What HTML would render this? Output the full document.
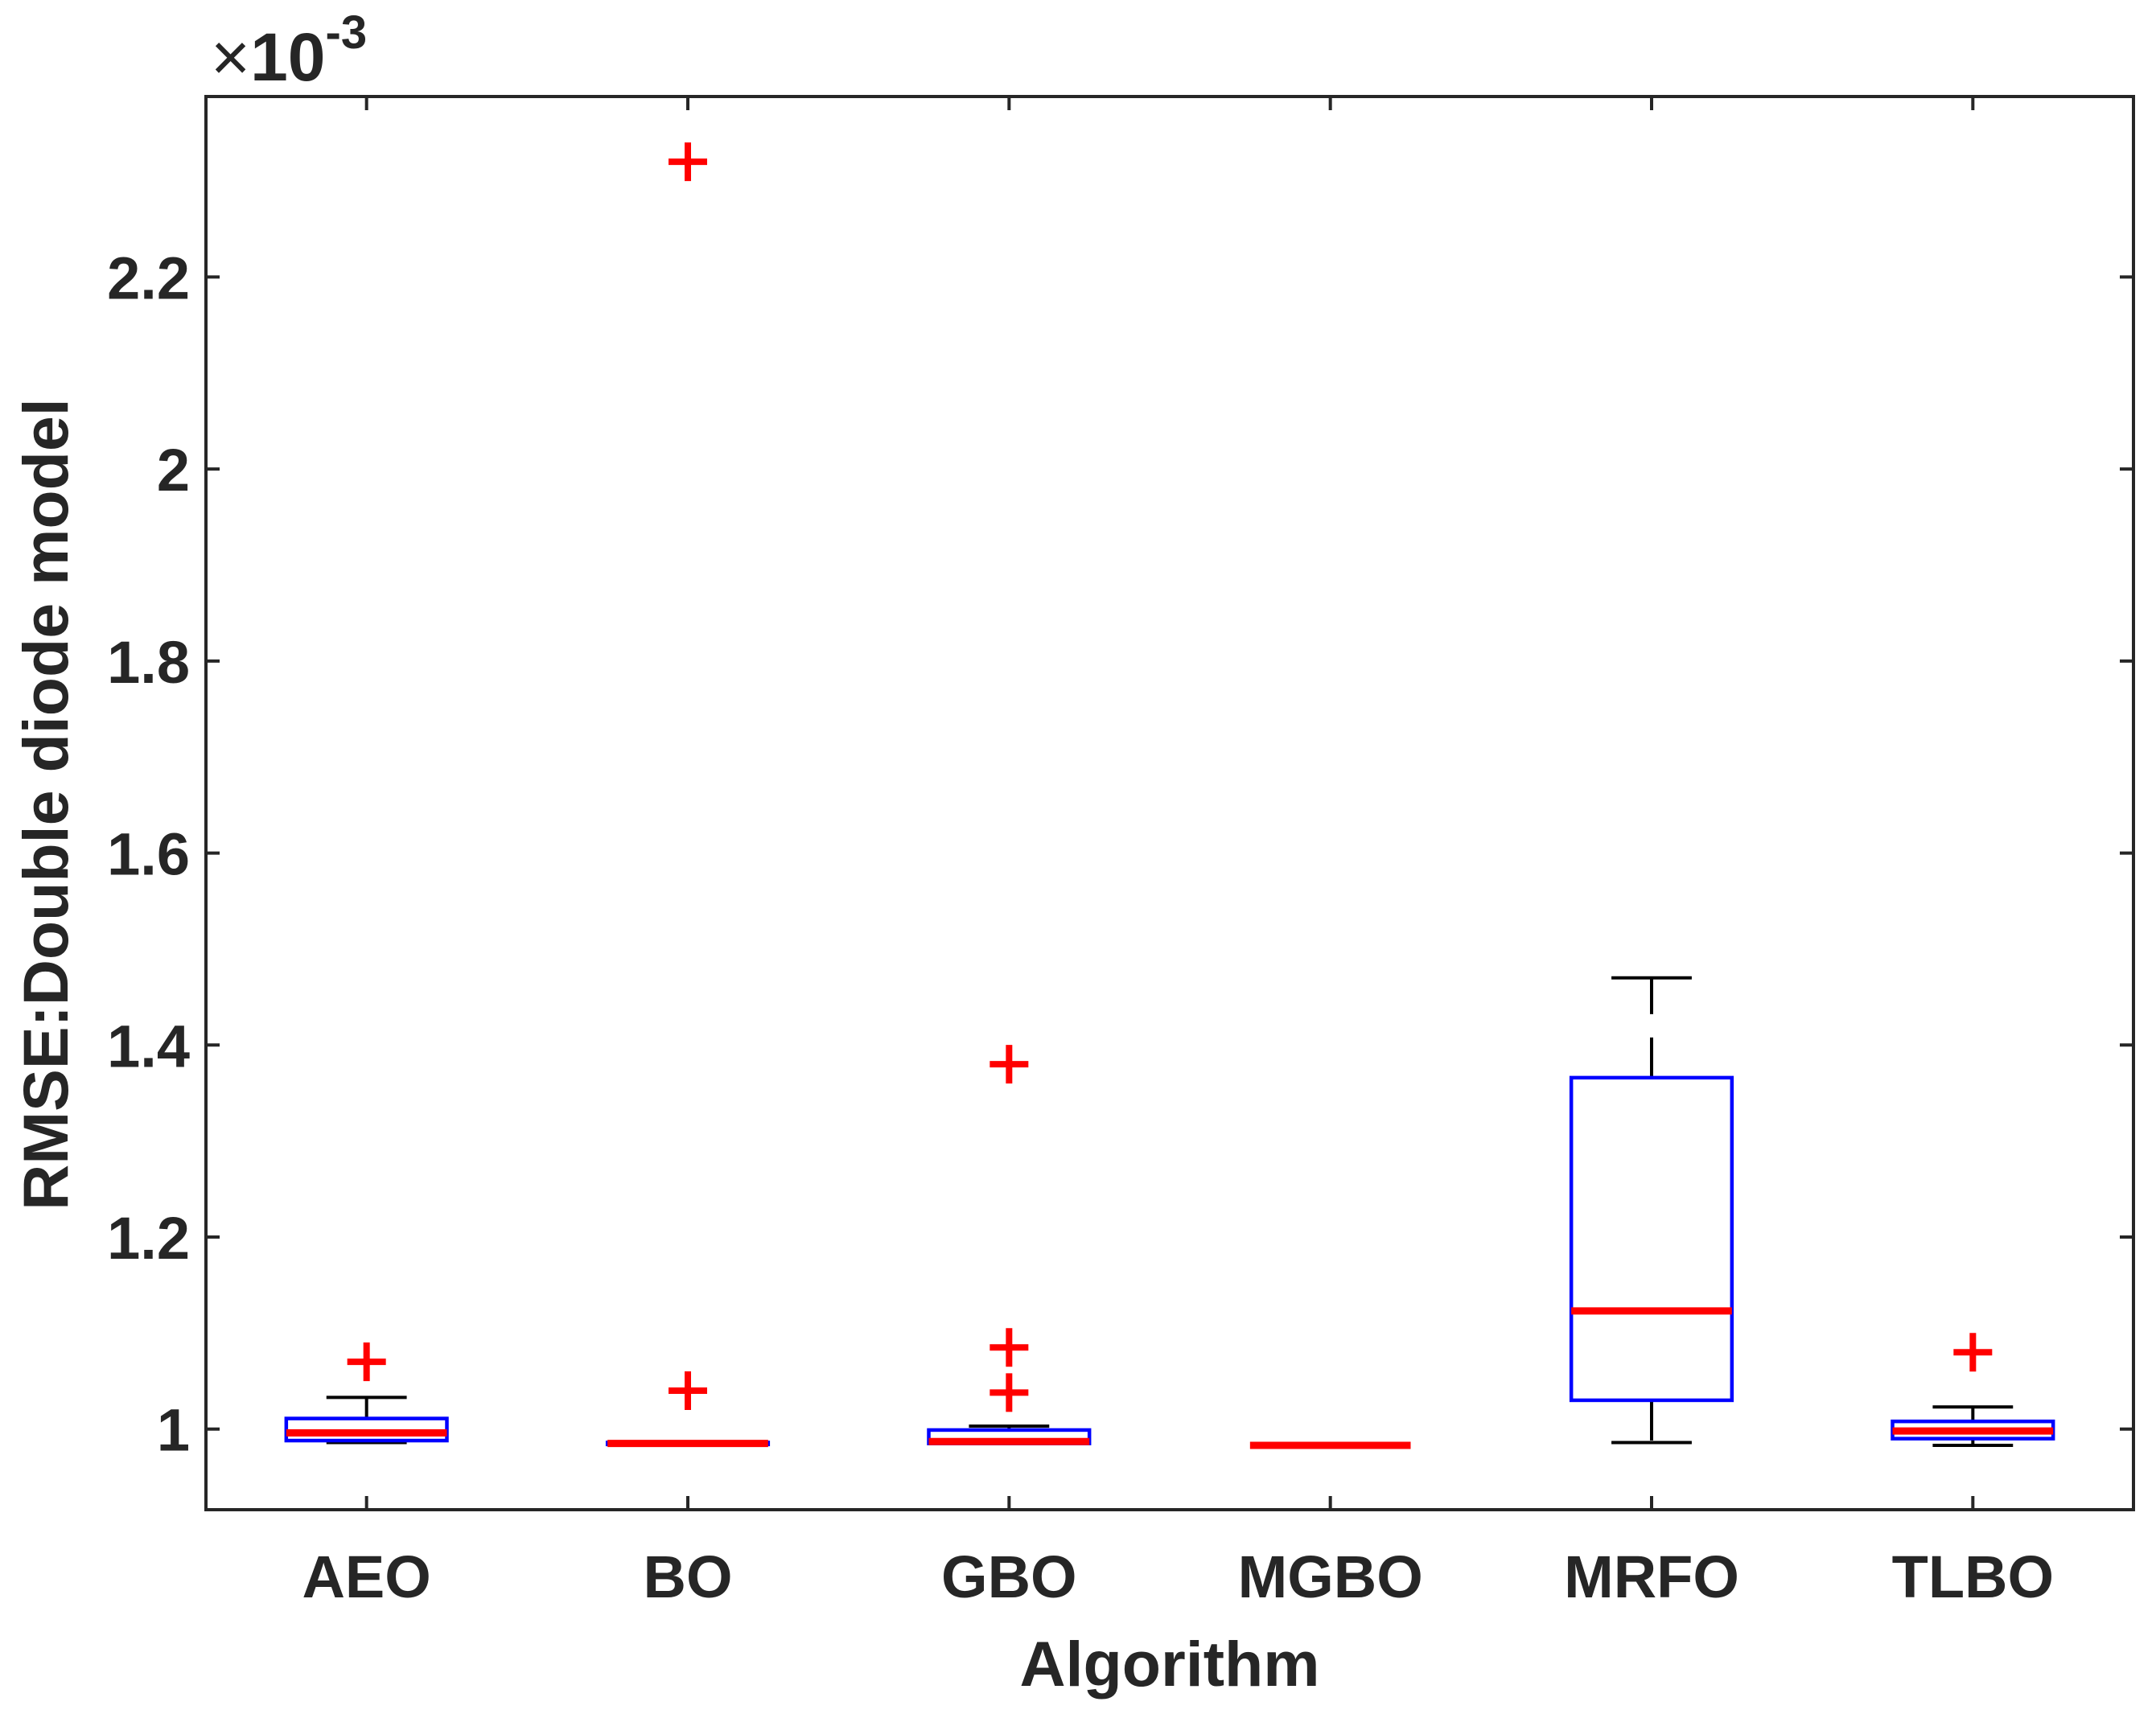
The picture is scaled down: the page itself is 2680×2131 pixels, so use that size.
<!DOCTYPE html>
<html><head><meta charset="utf-8"><style>
html,body{margin:0;padding:0;background:#fff;}
svg{display:block;font-family:"Liberation Sans",Arial,sans-serif;}
</style></head><body>
<svg id="chart" width="2680" height="2131" viewBox="0 0 2680 2131" xmlns="http://www.w3.org/2000/svg">
<rect x="0" y="0" width="2680" height="2131" fill="#fff"/>
<g id="marks"></g>
<g id="axes"></g>
</svg>
<script>
const categories = ["AEO","BO","GBO","MGBO","MRFO","TLBO"];
const whiskerLow = [0.986,0.984,0.985,0.983,0.986,0.983];
const q1 = [0.988,0.984,0.985,0.983,1.030,0.990];
const medians = [0.996,0.985,0.987,0.983,1.123,0.998];
const q3 = [1.011,0.986,0.999,0.983,1.366,1.008];
const whiskerHigh = [1.033,0.985,1.003,0.983,1.470,1.023];
const outliers = [[1.070],[1.040,2.320],[1.038,1.085,1.380],[],[],[1.080]];
const yTicks = [1,1.2,1.4,1.6,1.8,2,2.2];
const yTickLabels = ["1","1.2","1.4","1.6","1.8","2","2.2"];

const L=256,R=2652,T=120,B=1877;
const yMin=0.916,yMax=2.388;
const X=i=>L+(i+1-0.5)*(R-L)/6;
const Y=v=>B-(v-yMin)/(yMax-yMin)*(B-T);
const NS="http://www.w3.org/2000/svg";
function mk(tag,attrs,parent){const e=document.createElementNS(NS,tag);for(const k in attrs)e.setAttribute(k,attrs[k]);parent.appendChild(e);return e;}
const marks=document.getElementById('marks');
const axes=document.getElementById('axes');
const unit=(R-L)/6;

categories.forEach((c,i)=>{
  const g=mk('g',{},marks);
  
  
  const cx=X(i), hw=unit*0.25, cw=unit*0.125;
  const up=mk('line',{x1:cx,x2:cx,y1:Y(q3[i]),y2:Y(whiskerHigh[i]),stroke:'#000','stroke-width':4,'stroke-dasharray':'50 29'},g);
  
  
  const lo=mk('line',{x1:cx,x2:cx,y1:Y(q1[i]),y2:Y(whiskerLow[i]),stroke:'#000','stroke-width':4,'stroke-dasharray':'50 29'},g);
  
  
  const c1=mk('line',{x1:cx-cw,x2:cx+cw,y1:Y(whiskerHigh[i]),y2:Y(whiskerHigh[i]),stroke:'#000','stroke-width':4},g);
  
  
  const c2=mk('line',{x1:cx-cw,x2:cx+cw,y1:Y(whiskerLow[i]),y2:Y(whiskerLow[i]),stroke:'#000','stroke-width':4},g);
  
  
  const bx=mk('rect',{x:cx-hw,y:Y(q3[i]),width:2*hw,height:Math.max(0,Y(q1[i])-Y(q3[i])),fill:'none',stroke:'#0000ff','stroke-width':4.5},g);
  
  
  const md=mk('line',{x1:cx-hw,x2:cx+hw,y1:Y(medians[i]),y2:Y(medians[i]),stroke:'#ff0000','stroke-width':9},g);
  
  
  outliers[i].forEach(v=>{
    const p=mk('path',{d:`M${cx-24} ${Y(v)}H${cx+24}M${cx} ${Y(v)-24}V${Y(v)+24}`,stroke:'#ff0000','stroke-width':8,fill:'none'},g);
    
    
  });
});

const frame=mk('rect',{x:L,y:T,width:R-L,height:B-T,fill:'none',stroke:'#262626','stroke-width':4},axes);


yTicks.forEach((v,k)=>{
  const y=Y(v);
  mk('line',{x1:L,x2:L+17,y1:y,y2:y,stroke:'#262626','stroke-width':4},axes);
  mk('line',{x1:R,x2:R-17,y1:y,y2:y,stroke:'#262626','stroke-width':4},axes);
  const t=mk('text',{x:236,y:y+27,'text-anchor':'end','font-size':74,'font-weight':'bold',fill:'#262626'},axes);
  t.textContent=yTickLabels[k];
  
  
});
categories.forEach((c,i)=>{
  const x=X(i);
  mk('line',{x1:x,x2:x,y1:B,y2:B-17,stroke:'#262626','stroke-width':4},axes);
  mk('line',{x1:x,x2:x,y1:T,y2:T+17,stroke:'#262626','stroke-width':4},axes);
  const t=mk('text',{x:x,y:1986,'text-anchor':'middle','font-size':74,'font-weight':'bold',fill:'#262626'},axes);
  t.textContent=c;
  
  
});
</script>
<svg style="position:absolute;left:0;top:0" width="2680" height="2131" xmlns="http://www.w3.org/2000/svg" font-family="Liberation Sans, Arial, sans-serif">
<text x="1454" y="2096" text-anchor="middle" font-size="79" font-weight="bold" fill="#262626">Algorithm</text>
<text transform="translate(84,1000) rotate(-90)" text-anchor="middle" font-size="79" font-weight="bold" fill="#262626">RMSE:Double diode model</text>
<text x="262" y="100" font-size="84" fill="#262626"><tspan font-weight="normal">×</tspan><tspan font-weight="bold">10</tspan><tspan font-weight="bold" font-size="58" dy="-40">-3</tspan></text>
</svg>
</body></html>
